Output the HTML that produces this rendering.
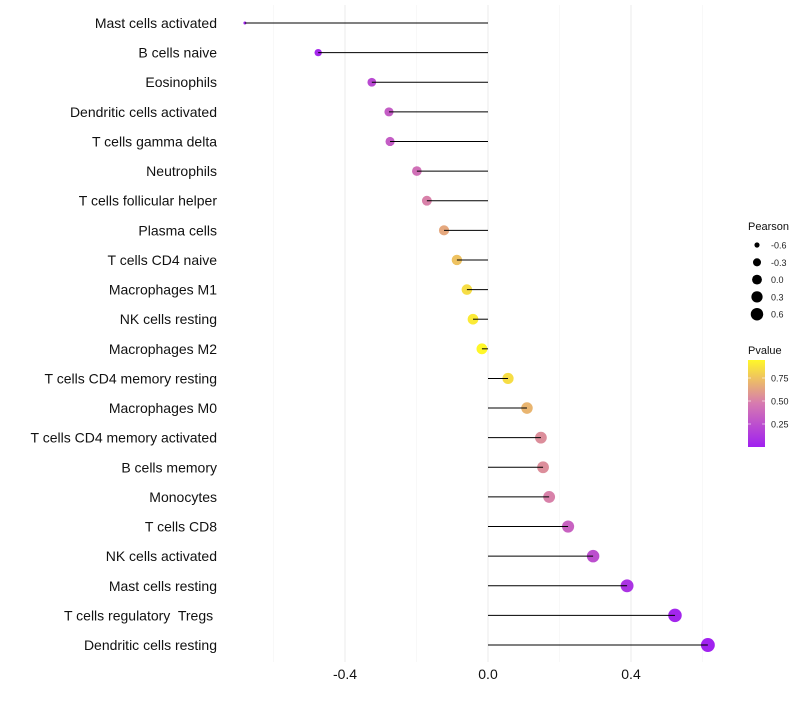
<!DOCTYPE html>
<html><head><meta charset="utf-8"><style>
body{margin:0;background:#fff;font-family:"Liberation Sans",sans-serif}
text{white-space:pre}
</style></head><body>
<svg id="c" width="800" height="700" xmlns="http://www.w3.org/2000/svg"></svg>
<script>
const categories=["Mast cells activated","B cells naive","Eosinophils","Dendritic cells activated","T cells gamma delta","Neutrophils","T cells follicular helper","Plasma cells","T cells CD4 naive","Macrophages M1","NK cells resting","Macrophages M2","T cells CD4 memory resting","Macrophages M0","T cells CD4 memory activated","B cells memory","Monocytes","T cells CD8","NK cells activated","Mast cells resting","T cells regulatory  Tregs ","Dendritic cells resting"];
const pearson=[-0.68,-0.475,-0.325,-0.277,-0.274,-0.199,-0.171,-0.123,-0.087,-0.059,-0.042,-0.017,0.056,0.109,0.148,0.154,0.171,0.224,0.294,0.389,0.523,0.615];
const pvalues=[0.01,0.04,0.22,0.32,0.32,0.42,0.5,0.65,0.75,0.85,0.9,0.95,0.85,0.7,0.55,0.55,0.5,0.35,0.25,0.1,0.03,0.01];
const xTicks=[-0.4,0.0,0.4];
const xTickLabels=["-0.4","0.0","0.4"];
const sizeLegend=[-0.6,-0.3,0.0,0.3,0.6];
const colorTicks=[0.25,0.5,0.75];
const NS="http://www.w3.org/2000/svg";
const svg=document.getElementById('c');
const X=v=>488+v*357.5;
const Y=i=>23+i*29.62;
const R=v=>1.5+4.8*Math.sqrt(Math.max(0,v+0.68));
function col(p){p=Math.max(0,Math.min(1,p/0.95));
 const a=[160,32,240],b=[214,122,176],c=[255,247,40];
 let s,e,t; if(p<0.5){s=a;e=b;t=p/0.5}else{s=b;e=c;t=(p-0.5)/0.5}
 return `rgb(${s.map((v,k)=>Math.round(v+(e[k]-v)*t)).join(',')})`;}
function mk(t,attrs,txt){const el=document.createElementNS(NS,t);for(const k in attrs)el.setAttribute(k,attrs[k]);if(txt!==undefined)el.textContent=txt;svg.appendChild(el);return el;}
[-0.6,-0.2,0.2,0.6].forEach(v=>{const g=mk('line',{x1:X(v),x2:X(v),y1:5,y2:662,stroke:'#f3f3f3','stroke-width':0.6});

});
xTicks.forEach((v,i)=>{const g=mk('line',{x1:X(v),x2:X(v),y1:5,y2:662,stroke:'#ebebeb','stroke-width':1});


const t=mk('text',{x:X(v),y:679,'text-anchor':'middle','font-size':14,fill:'#111'},xTickLabels[i]);

});
categories.forEach((c,i)=>{
 const t=mk('text',{x:217,y:Y(i)+5,'text-anchor':'end','font-size':14,fill:'#111'},c);
 
 
 const p=mk('circle',{cx:X(pearson[i]),cy:Y(i),r:R(pearson[i]),fill:col(pvalues[i])});
 
 
 const l=mk('line',{x1:X(0),x2:X(pearson[i]),y1:Y(i),y2:Y(i),stroke:'#000','stroke-width':1});
 
 
});
const lt=mk('text',{x:748,y:230,'font-size':11,fill:'#111'},'Pearson');


sizeLegend.forEach((v,i)=>{const y=245+i*17.3;
 const c=mk('circle',{cx:757,cy:y,r:R(v)*0.9,fill:'#000'});
 
 
 const t=mk('text',{x:771,y:y+3.5,'font-size':9,fill:'#222'},v.toFixed(1));
 
 });
const pt=mk('text',{x:748,y:354,'font-size':11,fill:'#111'},'Pvalue');


const defs=mk('defs',{});
const lg=document.createElementNS(NS,'linearGradient');lg.setAttribute('id','g');lg.setAttribute('x1',0);lg.setAttribute('y1',1);lg.setAttribute('x2',0);lg.setAttribute('y2',0);defs.appendChild(lg);
[0,0.25,0.5,0.75,1].forEach(o=>{const s=document.createElementNS(NS,'stop');s.setAttribute('offset',o);s.setAttribute('stop-color',col(o*0.95));lg.appendChild(s);});
const bar=mk('rect',{x:748,y:360,width:17,height:87,fill:'url(#g)'});


colorTicks.forEach(v=>{const y=447-v*92;
 mk('line',{x1:748,x2:751,y1:y,y2:y,stroke:'#fff','stroke-width':0.6});
 mk('line',{x1:762,x2:765,y1:y,y2:y,stroke:'#fff','stroke-width':0.6});
 const t=mk('text',{x:771,y:y+3.5,'font-size':9,fill:'#222'},v.toFixed(2));
 
 });
</script>
</body></html>
